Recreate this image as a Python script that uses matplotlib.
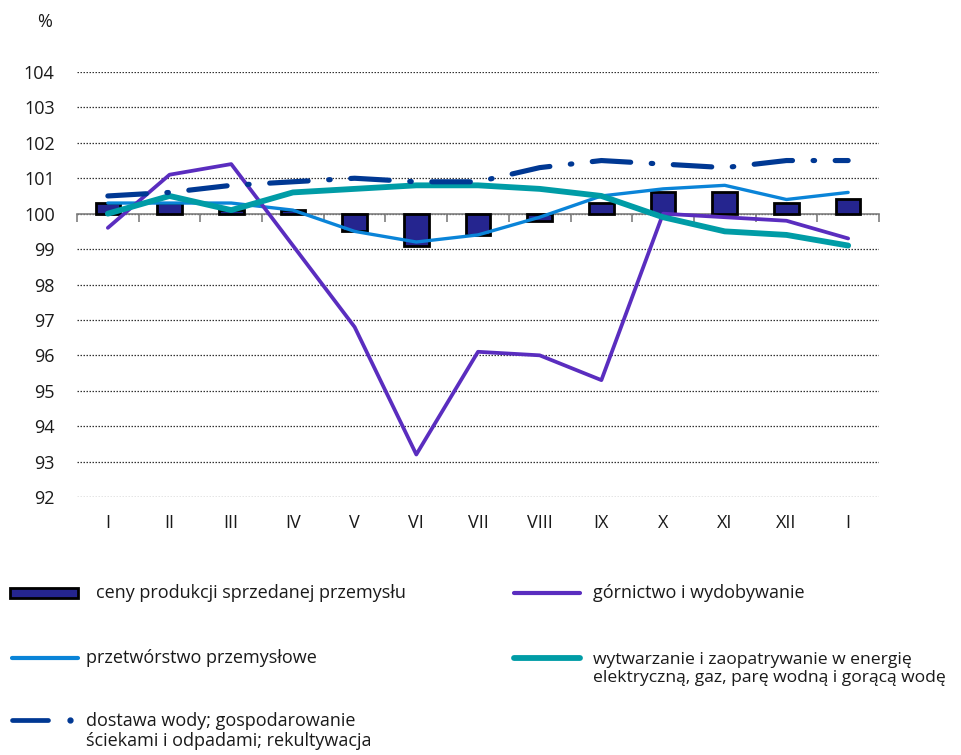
import matplotlib
matplotlib.use("Agg")
import matplotlib.pyplot as plt
from matplotlib.lines import Line2D
from matplotlib.patches import Rectangle
import numpy as np

plt.rcParams['font.family'] = ['Open Sans', 'DejaVu Sans']

months = ["I", "II", "III", "IV", "V", "VI", "VII", "VIII", "IX", "X", "XI", "XII", "I"]
ceny = [100.3, 100.3, 100.1, 100.1, 99.5, 99.1, 99.4, 99.8, 100.3, 100.6, 100.6, 100.3, 100.4]
gornictwo = [99.6, 101.1, 101.4, 99.1, 96.8, 93.2, 96.1, 96.0, 95.3, 100.0, 99.9, 99.8, 99.3]
przetworstwo = [100.3, 100.3, 100.3, 100.1, 99.5, 99.2, 99.4, 99.9, 100.5, 100.7, 100.8, 100.4, 100.6]
energia = [100.0, 100.5, 100.1, 100.6, 100.7, 100.8, 100.8, 100.7, 100.5, 99.9, 99.5, 99.4, 99.1]
woda = [100.5, 100.6, 100.8, 100.9, 101.0, 100.9, 100.9, 101.3, 101.5, 101.4, 101.3, 101.5, 101.5]
yticks = list(range(92, 105))

labels = ["ceny produkcji sprzedanej przemysłu",
          "górnictwo i wydobywanie",
          "przetwórstwo przemysłowe",
          "wytwarzanie i zaopatrywanie w energię\nelektryczną, gaz, parę wodną i gorącą wodę",
          "dostawa wody; gospodarowanie\nściekami i odpadami; rekultywacja"]

C_BAR = "#25258f"
C_MIN = "#5a2dbf"
C_MAN = "#0a84d8"
C_EN = "#009ca6"
C_WAT = "#003893"
TXT = "#1a1a1a"
FS = 13.0

W, H = 962, 755
fig = plt.figure(figsize=(W / 100, H / 100), dpi=100)
ax = fig.add_axes([77 / W, 1 - 497 / H, (879 - 77) / W, (497 - 72) / H])

x = np.arange(len(months))
base = 100
ax.bar(x, np.array(ceny) - base, bottom=base, width=0.4, color=C_BAR,
       edgecolor="black", linewidth=2, zorder=3)

ax.plot(x, gornictwo, color=C_MIN, lw=2.7, zorder=5, solid_capstyle='round')
ax.plot(x, przetworstwo, color=C_MAN, lw=2.4, zorder=4, solid_capstyle='round')
ax.plot(x, energia, color=C_EN, lw=4.2, zorder=6, solid_capstyle='round')
ax.plot(x, woda, color=C_WAT, lw=3.7, zorder=7, dashes=(7.5, 4.0, 0.3, 4.0),
        dash_capstyle='round')

ax.set_xlim(-0.5, len(months) - 0.5)
ax.set_ylim(92, 104)
ax.set_yticks(yticks)
ax.set_yticklabels([str(v) for v in yticks], fontsize=FS, color=TXT)
ax.tick_params(axis='y', length=0, pad=16)
for s in ["left", "right", "top"]:
    ax.spines[s].set_visible(False)
ax.spines["bottom"].set_position(("data", 100))
ax.spines["bottom"].set_color("#7f7f7f")
ax.spines["bottom"].set_linewidth(1.2)
ax.spines["bottom"].set_zorder(2)
ax.set_xticks(np.arange(-0.5, len(months), 1))
ax.set_xticklabels([])
ax.tick_params(axis='x', length=6, color="#7f7f7f", width=1.2, direction='out')
ax.yaxis.grid(True, linestyle=(0, (1.2, 1.2)), color="#333333", linewidth=0.9)
ax.set_axisbelow(True)

for i, m in enumerate(months):
    ax.text(i, -0.06, m, transform=ax.get_xaxis_transform(), ha="center",
            va="center", fontsize=FS, color=TXT)

fig.text(45 / W, 1 - 22 / H, "%", ha="center", va="center", fontsize=FS, color=TXT)

def fx(px):
    return px / W

def fy(py):
    return 1 - py / H

# legend
fig.add_artist(Rectangle((fx(10), fy(598)), fx(78) - fx(10), fy(588) - fy(598),
                         facecolor=C_BAR, edgecolor="black", linewidth=2,
                         transform=fig.transFigure))
fig.text(fx(96), fy(593), labels[0], ha="left", va="center", fontsize=FS, color=TXT)

fig.add_artist(Line2D([fx(514), fx(580)], [fy(593), fy(593)], color=C_MIN, lw=3,
                      solid_capstyle='round', transform=fig.transFigure))
fig.text(fx(593), fy(593), labels[1], ha="left", va="center", fontsize=FS, color=TXT)

fig.add_artist(Line2D([fx(12), fx(78)], [fy(658), fy(658)], color=C_MAN, lw=3,
                      solid_capstyle='round', transform=fig.transFigure))
fig.text(fx(86), fy(658), labels[2], ha="left", va="center", fontsize=FS, color=TXT)

fig.add_artist(Line2D([fx(514), fx(580)], [fy(658), fy(658)], color=C_EN, lw=4.2,
                      solid_capstyle='round', transform=fig.transFigure))
fig.text(fx(593), fy(669), labels[3], ha="left", va="center", fontsize=12.6, color=TXT,
         linespacing=1.15)

fig.add_artist(Line2D([fx(12), fx(48)], [fy(720), fy(720)], color=C_WAT, lw=3.4,
                      solid_capstyle='round', transform=fig.transFigure))
fig.add_artist(Line2D([fx(70)], [fy(720)], color=C_WAT, marker='o', markersize=3.5,
                      linestyle='none', transform=fig.transFigure))
fig.text(fx(86), fy(731), labels[4], ha="left", va="center", fontsize=FS, color=TXT,
         linespacing=1.15)

fig.savefig("out.png", dpi=100)
